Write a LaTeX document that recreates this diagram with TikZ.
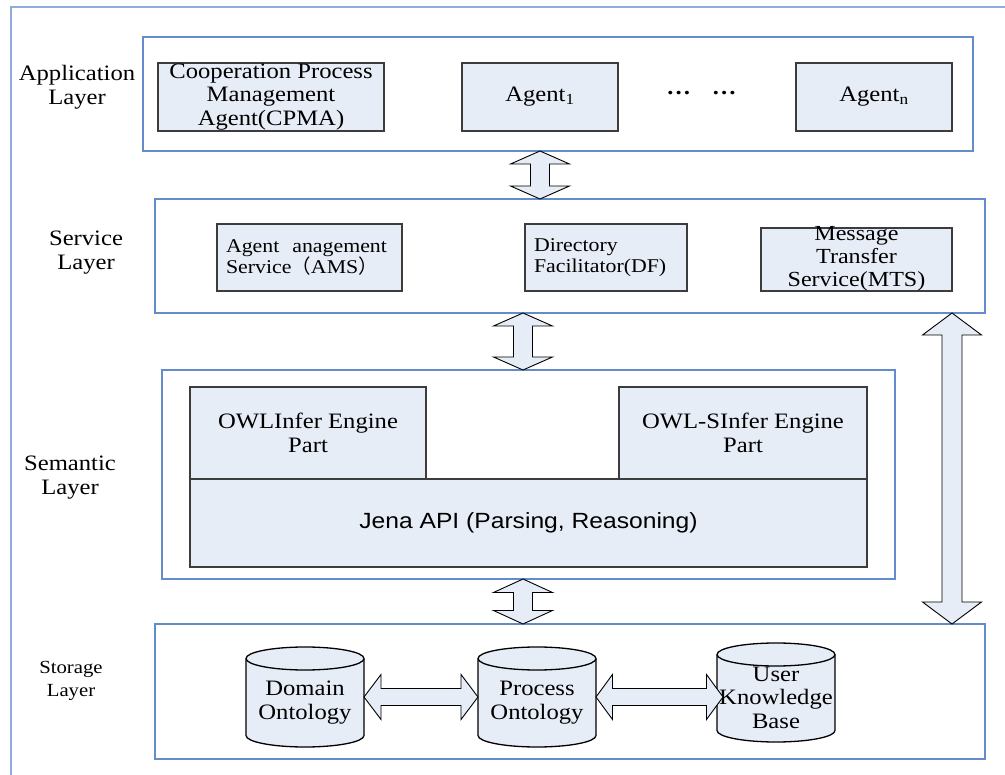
\documentclass[tikz,border=0pt]{standalone}
\usepackage{fontspec}
\setmainfont{Liberation Serif}[FakeStretch=1.12]
\newfontfamily\jenafont{Liberation Sans}[FakeStretch=1.12]
\newfontfamily\cjkparen{Noto Sans CJK SC}
\usetikzlibrary{calc}

\definecolor{layerblue}{RGB}{100,140,205}
\definecolor{frameblue}{RGB}{145,172,218}
\definecolor{boxfill}{RGB}{231,237,247}
\definecolor{boxline}{RGB}{60,60,60}

% vertical double block arrow: top point, bottom point, shaft half width, head half width, head length
\newcommand\vfat[5]{%
  \filldraw[fatarrow] let \p1=#1, \p2=#2 in
    (\x1,\y1) -- (\x1+#4,\y1-#5) -- (\x1+#3,\y1-#5) -- (\x1+#3,\y2+#5)
    -- (\x1+#4,\y2+#5) -- (\x1,\y2) -- (\x1-#4,\y2+#5) -- (\x1-#3,\y2+#5)
    -- (\x1-#3,\y1-#5) -- (\x1-#4,\y1-#5) -- cycle;}

% horizontal double block arrow: left point, right point, shaft half width, head half width, head length
\newcommand\hfat[5]{%
  \filldraw[fatarrow] let \p1=#1, \p2=#2 in
    (\x1,\y1) -- (\x1+#5,\y1+#4) -- (\x1+#5,\y1+#3) -- (\x2-#5,\y1+#3)
    -- (\x2-#5,\y1+#4) -- (\x2,\y1) -- (\x2-#5,\y1-#4) -- (\x2-#5,\y1-#3)
    -- (\x1+#5,\y1-#3) -- (\x1+#5,\y1-#4) -- cycle;}

% database cylinder (118pt wide, ellipse half height 11.5pt) drawn in a frame node
\newcommand\drawcyl[1]{%
  \filldraw[cylbody] let \p1=(#1.north west), \p2=(#1.south east) in
    (\x1,\y1-11.5pt) -- (\x1,\y2+11.5pt)
    .. controls (\x1,\y2+5.15pt) and (\x1+26.4pt,\y2) .. (\x1+59pt,\y2)
    .. controls (\x1+91.6pt,\y2) and (\x2,\y2+5.15pt) .. (\x2,\y2+11.5pt)
    -- (\x2,\y1-11.5pt)
    .. controls (\x2,\y1-5.15pt) and (\x1+91.6pt,\y1) .. (\x1+59pt,\y1)
    .. controls (\x1+26.4pt,\y1) and (\x1,\y1-5.15pt) .. cycle;
  \draw[cylbody,fill=none] let \p1=(#1.north west) in
    (\x1,\y1-11.5pt) .. controls (\x1,\y1-17.85pt) and (\x1+26.4pt,\y1-23pt) .. (\x1+59pt,\y1-23pt)
    .. controls (\x1+91.6pt,\y1-23pt) and (\x1+118pt,\y1-17.85pt) .. (\x1+118pt,\y1-11.5pt);}

\begin{document}
\begin{tikzpicture}[x=1pt,y=-1pt,
  layerbox/.style={draw=layerblue, line width=1.2pt, inner sep=0pt, outer sep=0pt},
  unit/.style={draw=boxline, fill=boxfill, line width=1.3pt, inner sep=0pt, outer sep=0pt,
    align=center, font=\fontsize{22}{23.5}\selectfont},
  txt/.style={inner sep=0pt, align=center, font=\fontsize{22}{23.5}\selectfont},
  lbl/.style={inner sep=0pt, align=center, font=\fontsize{22}{24}\selectfont},
  cylframe/.style={inner sep=0pt, outer sep=0pt, minimum width=118pt},
  cylbody/.style={draw=black, fill=boxfill, line width=1.3pt},
  fatarrow/.style={draw=black, fill=boxfill, line width=0.9pt, line join=miter}]

\useasboundingbox (0,0) rectangle (1005,775);

% outer frame
\draw[frameblue, line width=1.2pt] (11,775) -- (11,7) -- (1005,7);

% layers
\node[layerbox, minimum width=830pt, minimum height=114pt] (app) at (558,94) {};
\node[layerbox, minimum width=830pt, minimum height=114pt] (svc) at (570,256) {};
\node[layerbox, minimum width=733pt, minimum height=209pt] (sem) at (528.5,474.5) {};
\node[layerbox, minimum width=830pt, minimum height=135pt] (sto) at (570,691.5) {};

% layer names
\node[lbl] (appL) at (77,87) {Application\\Layer};
\node[lbl] (svcL) at (86,252.5) {Service\\Layer};
\node[lbl] (semL) at (70,477.5) {Semantic\\Layer};
\node[lbl, font=\fontsize{18.5}{22.5}\selectfont] (stoL) at (71,681) {Storage\\Layer};

% application layer
\node[unit, minimum width=226pt, minimum height=68pt] (cpma) at (271,97) {};
\node[txt] (cpma-t) at (271,97) {Cooperation Process\\Management\\Agent(CPMA)};
\node[unit, minimum width=156pt, minimum height=68pt] (ag1) at (540,97) {Agent\textsubscript{1}};
\node[unit, minimum width=156pt, minimum height=68pt] (agn) at (874,97) {Agent\textsubscript{n}};
\node[txt, anchor=base, font=\bfseries\fontsize{22}{23.5}\selectfont] (dots) at (701.5,95) {…\hspace{21pt}…};

% service layer
\node[unit, text width=167pt, inner xsep=9pt, align=left, minimum height=67pt,
  font=\fontsize{19.5}{21}\selectfont] (ams) at (309.5,257.5)
  {Agent\ \ anagement\\Service{\cjkparen （}AMS{\cjkparen ）}};
\node[unit, text width=144pt, inner xsep=9pt, align=left, minimum height=67pt,
  font=\fontsize{19.5}{20.5}\selectfont] (df) at (606,257.5)
  {Directory\\Facilitator(DF)};
\node[unit, minimum width=191pt, minimum height=63pt] (mts) at (856.5,259.5) {};
\node[txt, font=\fontsize{21.5}{23}\selectfont] (mts-t) at (856.5,259) {Message\\Transfer\\Service(MTS)};

% semantic layer
\node[unit, minimum width=236pt, minimum height=92pt] (owli) at (308,433) {OWLInfer Engine\\Part};
\node[unit, minimum width=248pt, minimum height=92pt] (owls) at (743,433) {OWL-SInfer Engine\\Part};
\node[unit, minimum width=677pt, minimum height=88pt, font=\jenafont\fontsize{22}{24}\selectfont]
  (jena) at (528.5,523) {Jena API (Parsing, Reasoning)};

% storage layer
\node[cylframe, minimum height=100pt] (dom) at (305,697) {};
\node[cylframe, minimum height=100pt] (proc) at (537,697) {};
\node[cylframe, minimum height=99pt] (usr) at (776,692.5) {};
\drawcyl{dom}
\drawcyl{proc}
\drawcyl{usr}
\node[txt] (dom-t) at (305,702.5) {Domain\\Ontology};
\node[txt] (proc-t) at (537,702.5) {Process\\Ontology};
\node[txt] (usr-t) at (776,697.5) {User\\Knowledge\\Base};

% links between layers
\coordinate (axis) at (523,0);
\coordinate (rail) at (952,0);
\vfat{(ag1.center |- app.south)}{(ag1.center |- svc.north)}{9.5pt}{29.5pt}{13pt}
\vfat{(axis |- svc.south)}{(axis |- sem.north)}{9.5pt}{29.5pt}{13pt}
\vfat{(axis |- sem.south)}{(axis |- sto.north)}{9.5pt}{29.5pt}{13.5pt}
\vfat{(rail |- svc.south)}{(rail |- sto.north)}{10pt}{29.5pt}{22pt}

% links between the stores
\hfat{(dom.east)}{(proc.west)}{8.5pt}{22.5pt}{17pt}
\hfat{(proc.east)}{($(usr.west)+(6,0)$)}{8.5pt}{22.5pt}{16.5pt}

\end{tikzpicture}
\end{document}
